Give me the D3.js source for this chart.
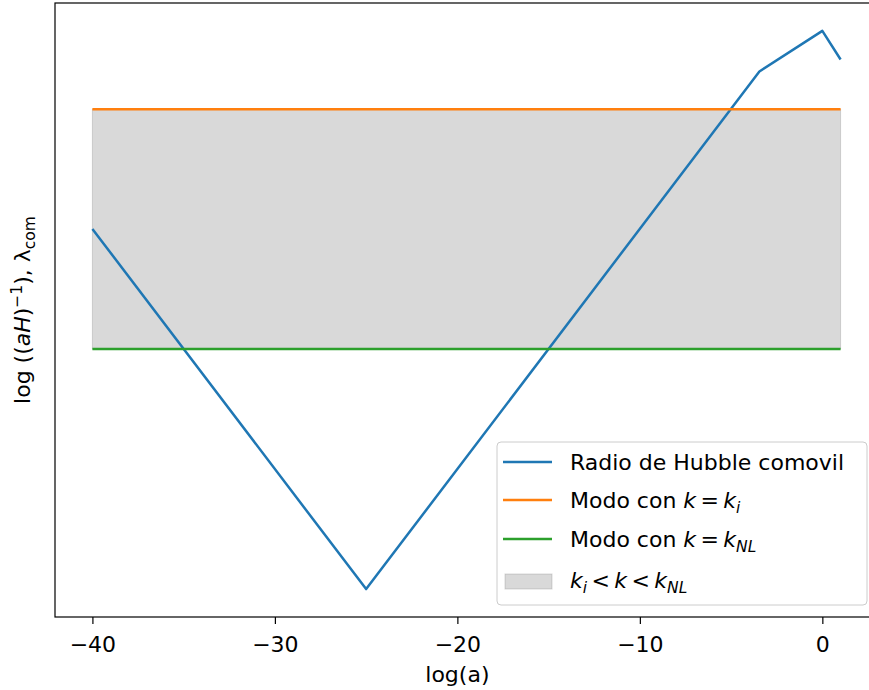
<!DOCTYPE html>
<html>
<head>
<meta charset="utf-8">
<script src="https://cdn.jsdelivr.net/npm/d3@7"></script>
<style>
  body { margin: 0; background: #fff; }
  text { font-family: "DejaVu Sans", sans-serif; fill: #000; }
</style>
</head>
<body>
<div id="my_dataviz"></div>
<script>
// data
var loga = [-40, -25, -3.45, 0, 1];
var hubble = [15.1, 0, 21.7, 23.4, 22.2];
var kiLevel = 20.12;
var kNLLevel = 10.06;
var modeX = [-40, 1];
var xTicks = [-40, -30, -20, -10, 0];
var legendLabels = ["Radio de Hubble comovil", "Modo con k = k_i", "Modo con k = k_NL", "k_i < k < k_NL"];

var margin = {top: 3, left: 55, bottom: 73},
    W = 869, H = 690,
    plotRight = 878,
    fs = "22px", fsSub = "15.5px";

var svg = d3.select("#my_dataviz").append("svg")
    .attr("width", W).attr("height", H);

// matplotlib style 5% padding
var xExt = d3.extent(loga.concat(modeX));
var xPad = (xExt[1] - xExt[0]) * 0.05;
var xScale = d3.scaleLinear().domain([xExt[0] - xPad, xExt[1] + xPad]).range([margin.left, plotRight]);

var yExt = d3.extent(hubble.concat([kiLevel, kNLLevel]));
var yPad = (yExt[1] - yExt[0]) * 0.05;
var yScale = d3.scaleLinear().domain([yExt[0] - yPad, yExt[1] + yPad]).range([H - margin.bottom, margin.top]);

var g = svg.append("g");

// shaded band
g.append("path")
  .datum(modeX)
  .attr("fill", "rgba(128,128,128,0.3)")
  .attr("stroke", "rgba(128,128,128,0.3)")
  .attr("stroke-width", 1)
  .attr("d", d3.area().x(d => xScale(d)).y0(yScale(kNLLevel)).y1(yScale(kiLevel)));

var line = d3.line().x(d => xScale(d[0])).y(d => yScale(d[1]));

g.append("path")
  .datum(loga.map((d, i) => [d, hubble[i]]))
  .attr("fill", "none").attr("stroke", "#1f77b4").attr("stroke-width", 2.5)
  .attr("stroke-linejoin", "round")
  .attr("d", line);

g.append("path")
  .datum(modeX.map(d => [d, kiLevel]))
  .attr("fill", "none").attr("stroke", "#ff7f0e").attr("stroke-width", 2.5)
  .attr("d", line);

g.append("path")
  .datum(modeX.map(d => [d, kNLLevel]))
  .attr("fill", "none").attr("stroke", "#2ca02c").attr("stroke-width", 2.5)
  .attr("d", line);

// frame
svg.append("rect")
  .attr("x", margin.left).attr("y", margin.top)
  .attr("width", plotRight - margin.left).attr("height", H - margin.bottom - margin.top)
  .attr("fill", "none").attr("stroke", "#000").attr("stroke-width", 1.2);

// x axis
var xAxis = d3.axisBottom(xScale).tickValues(xTicks).tickSize(7)
  .tickFormat(d => d < 0 ? "\u2212" + Math.abs(d) : d);
var ax = svg.append("g")
  .attr("transform", `translate(0,${H - margin.bottom})`)
  .call(xAxis);
ax.select(".domain").remove();
ax.selectAll("line").attr("stroke", "#000").attr("stroke-width", 1.2);
ax.selectAll("text").attr("y", 35).attr("dy", 0)
  .style("font-family", "DejaVu Sans").style("font-size", fs).attr("fill", "#000");

svg.append("text")
  .attr("x", xScale(-20)).attr("y", 682)
  .attr("text-anchor", "middle").style("font-size", fs)
  .text("log(a)");

// y label
var yl = svg.append("text")
  .attr("transform", `translate(30,${(margin.top + H - margin.bottom) / 2}) rotate(-90)`)
  .attr("text-anchor", "middle").style("font-size", fs);
yl.append("tspan").text("log ((");
yl.append("tspan").style("font-style", "italic").text("aH");
yl.append("tspan").text(")");
yl.append("tspan").attr("dy", -8).style("font-size", fsSub).text("\u22121");
yl.append("tspan").attr("dy", 8).text("), \u03bb");
yl.append("tspan").attr("dy", 5).style("font-size", fsSub).text("com");

// legend
var lg = svg.append("g").attr("transform", "translate(497,442)");
lg.append("rect").attr("width", 370).attr("height", 163).attr("rx", 4)
  .attr("fill", "rgba(255,255,255,0.8)").attr("stroke", "#ccc").attr("stroke-width", 1);

var legendColors = ["#1f77b4", "#ff7f0e", "#2ca02c"];
var rowY = [20, 58, 97, 140];

legendColors.forEach(function(c, i) {
  lg.append("line").attr("x1", 6).attr("x2", 55).attr("y1", rowY[i]).attr("y2", rowY[i])
    .attr("stroke", c).attr("stroke-width", 2.5);
});
lg.append("rect").attr("x", 8).attr("y", rowY[3] - 8).attr("width", 47).attr("height", 15)
  .attr("fill", "rgba(128,128,128,0.3)").attr("stroke", "rgba(128,128,128,0.3)");

function mathLabel(t, parts) {
  parts.forEach(function(p) {
    var ts = t.append("tspan").text(p.s);
    if (p.it) ts.style("font-style", "italic");
    if (p.sub) ts.attr("dy", 5).style("font-size", fsSub);
    if (p.up) ts.attr("dy", -5);
  });
}

var tx = 73;
lg.append("text").attr("x", tx).attr("y", rowY[0] + 8).style("font-size", fs).text(legendLabels[0]);

var t1 = lg.append("text").attr("x", tx).attr("y", rowY[1] + 8).style("font-size", fs);
mathLabel(t1, [{s: "Modo con "}, {s: "k", it: true}, {s: "\u2009=\u2009"}, {s: "k", it: true}, {s: "i", it: true, sub: true}]);

var t2 = lg.append("text").attr("x", tx).attr("y", rowY[2] + 8).style("font-size", fs);
mathLabel(t2, [{s: "Modo con "}, {s: "k", it: true}, {s: "\u2009=\u2009"}, {s: "k", it: true}, {s: "NL", it: true, sub: true}]);

var t3 = lg.append("text").attr("x", tx).attr("y", rowY[3] + 6).style("font-size", fs);
mathLabel(t3, [{s: "k", it: true}, {s: "i", it: true, sub: true}, {s: "\u2009<\u2009", up: true}, {s: "k", it: true}, {s: "\u2009<\u2009"}, {s: "k", it: true}, {s: "NL", it: true, sub: true}]);
</script>
</body>
</html>
